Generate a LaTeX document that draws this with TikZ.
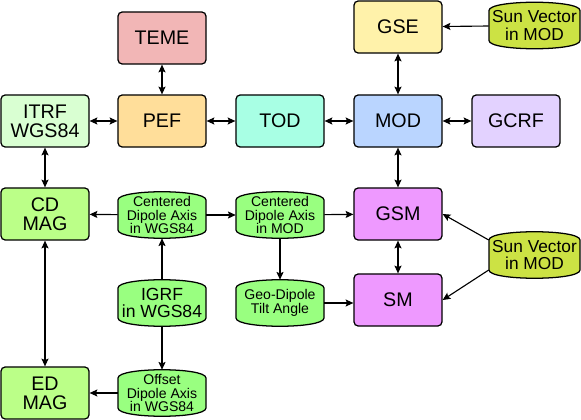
\documentclass[tikz,border=0pt]{standalone}
\usepackage{fontspec}
\setmainfont{Liberation Sans}
\usepackage{xcolor}
\definecolor{temeRed}{HTML}{F2B6B6}
\definecolor{itrfGreen}{HTML}{D9FFD2}
\definecolor{pefOrange}{HTML}{FFDE9A}
\definecolor{todCyan}{HTML}{A8FFE4}
\definecolor{modBlue}{HTML}{BAD5FF}
\definecolor{gcrfLilac}{HTML}{E3D2FF}
\definecolor{gseYellow}{HTML}{FFF2AA}
\definecolor{sunLime}{HTML}{CCE244}
\definecolor{magGreen}{HTML}{BBFF88}
\definecolor{dipGreen}{HTML}{99FF80}
\definecolor{gsmPink}{HTML}{EE99FF}
\usetikzlibrary{calc,arrows.meta}

\begin{document}
\begin{tikzpicture}[x=0.025cm, y=-0.025cm, >={Stealth[length=5.5pt,width=5pt,inset=1pt]},
  frame/.style={draw, line width=0.9pt, rounded corners=3pt, minimum width=2.2cm,
    minimum height=1.3cm, inner sep=0pt, align=center, font=\fontsize{14}{13.5}\selectfont},
  blob/.style={inner sep=0pt, align=center, minimum height=1.15cm},
  link/.style={line width=0.8pt}]
  \useasboundingbox (0,0) rectangle (581,420);
  % reference frames
  \foreach \name/\x/\y/\col/\txt in {%
    teme/162/38/temeRed/TEME,
    itrf/45/121/itrfGreen/{ITRF\\WGS84},
    pef/162/121/pefOrange/PEF,
    tod/280/121/todCyan/TOD,
    mod/398/121/modBlue/MOD,
    gcrf/516/121/gcrfLilac/GCRF,
    gse/398/27/gseYellow/GSE,
    cdmag/45/214/magGreen/{CD\\MAG},
    gsm/398/214/gsmPink/GSM,
    sm/398/300/gsmPink/SM,
    edmag/45/393/magGreen/{ED\\MAG}} {
    \node[frame, fill=\col] (\name) at (\x,\y) {\txt};
  }
  % data blocks
  \foreach \name/\x/\y/\w/\col/\fs/\ls/\txt in {%
    cdw/162/215/44/dipGreen/10/9.8/{Centered\\Dipole Axis\\in WGS84},
    cdm/280/215/44/dipGreen/10/9.8/{Centered\\Dipole Axis\\in MOD},
    igrf/162/303/44/dipGreen/12.5/12.5/{IGRF\\in WGS84},
    tilt/280/303/44/dipGreen/10/9.8/{Geo-Dipole\\Tilt Angle},
    odw/162/393/44/dipGreen/10/9.8/{Offset\\Dipole Axis\\in WGS84},
    suna/534.5/25.5/45.5/sunLime/12.3/12.3/{Sun Vector\\in MOD},
    sunb/534.5/255/45.5/sunLime/12.3/12.3/{Sun Vector\\in MOD}} {
    \draw[line width=0.9pt, fill=\col] (\x-\w,\y-15)
      .. controls (\x-\w,\y-26) and (\x+\w,\y-26) .. (\x+\w,\y-15) -- (\x+\w,\y+15)
      .. controls (\x+\w,\y+26) and (\x-\w,\y+26) .. (\x-\w,\y+15) -- cycle;
    \node[blob, minimum width=\w*0.05cm, font=\fontsize{\fs}{\ls}\selectfont] (\name) at (\x,\y) {\txt};
  }
  % two-way links
  \foreach \a/\b in {teme/pef, itrf/pef, pef/tod, tod/mod, mod/gcrf, gse/mod,
    itrf/cdmag, mod/gsm, gsm/sm, cdmag/edmag}
    \draw[link, <->] (\a) -- (\b);
  % one-way links
  \foreach \a/\b in {suna/gse, cdw/cdmag, cdw/cdm, cdm/gsm, igrf/cdw, igrf/odw,
    odw/edmag, cdm/tilt}
    \draw[link, ->] (\a) -- (\b);
  \draw[link, ->] (tilt) -- (tilt -| sm.west);
  \draw[link, ->] ([yshift=0.375cm]sunb.west) -- (gsm.east);
  \draw[link, ->] ([yshift=-0.375cm]sunb.west) -- (sm.east);
\end{tikzpicture}
\end{document}
